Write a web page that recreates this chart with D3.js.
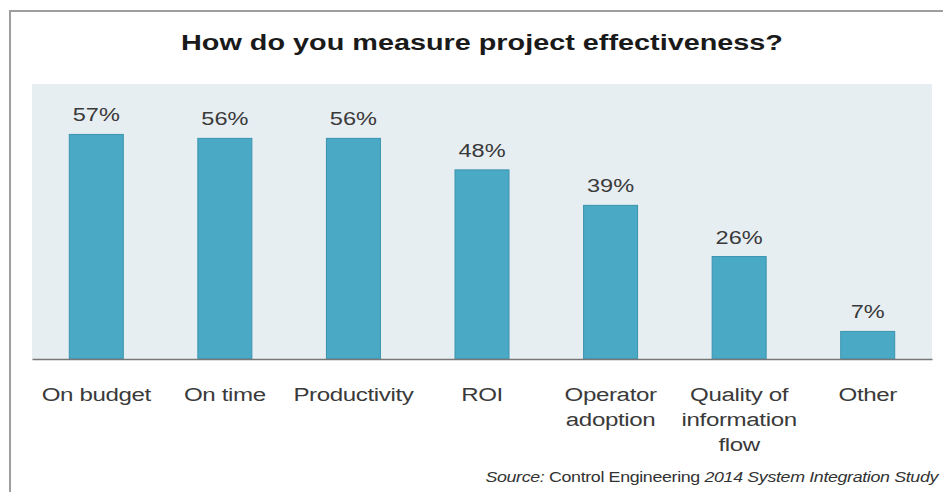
<!DOCTYPE html>
<html>
<head>
<meta charset="utf-8">
<script src="https://cdn.jsdelivr.net/npm/d3@7"></script>
<style>
  body { margin: 0; background: #fff; }
  svg text { font-family: "Liberation Sans", Arial, sans-serif; }
</style>
</head>
<body>
<svg id="svg" width="943" height="492"></svg>
<script>
// data
const categories = ["On budget", "On time", "Productivity", "ROI", "Operator adoption", "Quality of information flow", "Other"];
const catLines = [["On budget"], ["On time"], ["Productivity"], ["ROI"], ["Operator", "adoption"], ["Quality of", "information", "flow"], ["Other"]];
const values = [57, 56, 56, 48, 39, 26, 7];
const valueLabels = ["57%", "56%", "56%", "48%", "39%", "26%", "7%"];

const svg = d3.select("svg#svg");
const plot = {left: 32, right: 932, top: 84, bottom: 359};

// the source picture is stretched sideways, so text gets a wider x scale
const stretch = (cx, cy, sx) => `translate(${cx},${cy}) scale(${sx},1)`;

// outer frame, runs off the right and bottom edge
svg.append("rect").attr("x", 10).attr("y", 11).attr("width", 1000).attr("height", 1000)
    .attr("fill", "none").attr("stroke", "#9e9e9e").attr("stroke-width", 2);

svg.append("text").attr("transform", stretch(482, 50, 1.31)).attr("text-anchor", "middle")
    .attr("font-size", 22).attr("font-weight", "bold").attr("fill", "#1a1a1a")
    .text("How do you measure project effectiveness?");

svg.append("rect").attr("x", plot.left).attr("y", plot.top)
    .attr("width", plot.right - plot.left).attr("height", plot.bottom - plot.top)
    .attr("fill", "#e7eef2");

const x = d3.scaleBand().domain(categories).range([plot.left, plot.right])
    .paddingInner(0.58).paddingOuter(0.29);
const y = d3.scaleLinear().domain([0, 60]).range([plot.bottom, plot.bottom - 236.4]);
const cx = c => x(c) + x.bandwidth() / 2;

const rows = categories.map((c, i) => ({cat: c, v: values[i], label: valueLabels[i], lines: catLines[i]}));

svg.selectAll("rect.bar").data(rows).enter().append("rect").attr("class", "bar")
    .attr("x", d => x(d.cat)).attr("width", x.bandwidth())
    .attr("y", d => y(d.v)).attr("height", d => y(0) - y(d.v))
    .attr("fill", "#4aa9c5").attr("stroke", "#3a93ae").attr("stroke-width", 1);

svg.selectAll("text.val").data(rows).enter().append("text").attr("class", "val")
    .attr("transform", d => stretch(cx(d.cat), y(d.v) - 13, 1.24))
    .attr("text-anchor", "middle").attr("font-size", 19).attr("fill", "#3a3a3a")
    .text(d => d.label);

// baseline axis, no ticks
const xAxis = svg.append("g").attr("transform", `translate(0,${plot.bottom})`)
    .call(d3.axisBottom(x).tickSize(0).tickFormat(""));
xAxis.select(".domain").attr("stroke", "#777").attr("stroke-width", 1.5);

const cl = svg.selectAll("text.cat").data(rows).enter().append("text").attr("class", "cat")
    .attr("transform", d => stretch(cx(d.cat), 401, 1.27))
    .attr("text-anchor", "middle").attr("font-size", 19).attr("fill", "#3a3a3a")
    .attr("letter-spacing", -0.3);
cl.selectAll("tspan").data(d => d.lines).enter().append("tspan")
    .attr("x", 0).attr("dy", (d, i) => i ? 25 : 0).text(d => d);

const src = svg.append("text").attr("transform", stretch(938, 482, 1.15)).attr("text-anchor", "end")
    .attr("font-size", 15.5).attr("fill", "#333").attr("letter-spacing", -0.3);
src.append("tspan").attr("font-style", "italic").text("Source:");
src.append("tspan").text(" Control Engineering ");
src.append("tspan").attr("font-style", "italic").text("2014 System Integration Study");
</script>
</body>
</html>
